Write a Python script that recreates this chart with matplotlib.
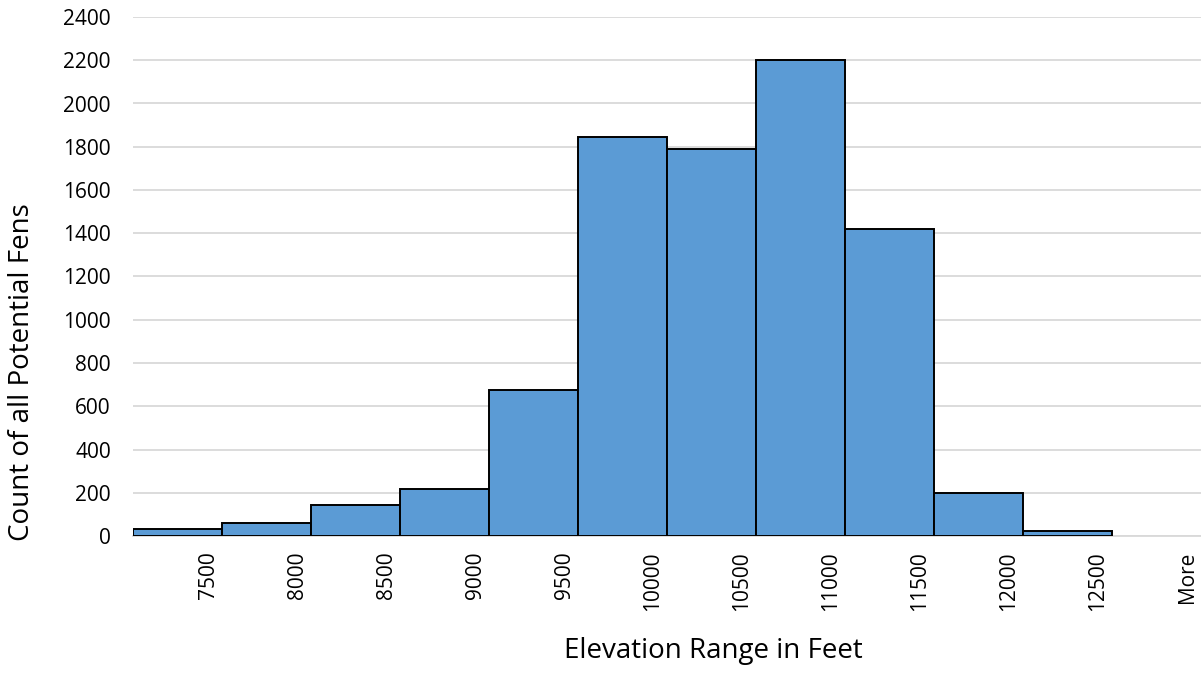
import matplotlib
matplotlib.use("Agg")
import matplotlib.pyplot as plt
import matplotlib.transforms as mtransforms
import numpy as np

# histogram bins (Excel style, upper limit labels) and counts
bin_labels = ["7500", "8000", "8500", "9000", "9500", "10000",
              "10500", "11000", "11500", "12000", "12500", "More"]
counts = [33, 58, 143, 216, 673, 1846, 1791, 2200, 1419, 197, 23, 0]

bar_color = "#5B9BD5"
grid_color = "#D9D9D9"

plt.rcParams["font.family"] = ["Open Sans", "DejaVu Sans"]

fig = plt.figure(figsize=(12.01, 6.90), dpi=100)
ax = fig.add_axes([133 / 1201, (690 - 536) / 690, (1201 - 133) / 1201, 519 / 690])

x = np.arange(len(bin_labels))
# empty bins get no outline (Excel draws nothing for them)
widths = [1.4 if c > 0 else 0 for c in counts]
ax.bar(x, counts, width=1.0, color=bar_color, edgecolor="black",
       linewidth=widths, zorder=3)

ax.set_xlim(-0.5, len(bin_labels) - 0.5)
ax.set_ylim(0, 2400)
ax.set_yticks(np.arange(0, 2401, 200))
ax.yaxis.grid(True, color=grid_color, linewidth=1.3, zorder=0)
ax.set_axisbelow(True)

for side in ["top", "right", "left"]:
    ax.spines[side].set_visible(False)
ax.spines["bottom"].set_color(grid_color)
ax.spines["bottom"].set_linewidth(1.3)

ax.tick_params(axis="y", length=0, pad=16, labelsize=15, labelcolor="black")
ax.tick_params(axis="x", length=0, pad=11, labelsize=15, labelcolor="black")
ax.set_xticks(x)
ax.set_xticklabels(bin_labels, rotation=90, va="top", ha="center")

# Excel shifts the rotated category labels to the right of the bar centre
offset = mtransforms.ScaledTranslation(22 / 72, 0, fig.dpi_scale_trans)
for lbl in ax.get_xticklabels():
    lbl.set_transform(lbl.get_transform() + offset)

fig.text(713 / 1201, 1 - 651 / 690, "Elevation Range in Feet",
         ha="center", va="center", fontsize=20)
fig.text(22 / 1201, 1 - 372 / 690, "Count of all Potential Fens",
         ha="center", va="center", rotation=90, fontsize=20)

fig.savefig("out.png", dpi=100)
